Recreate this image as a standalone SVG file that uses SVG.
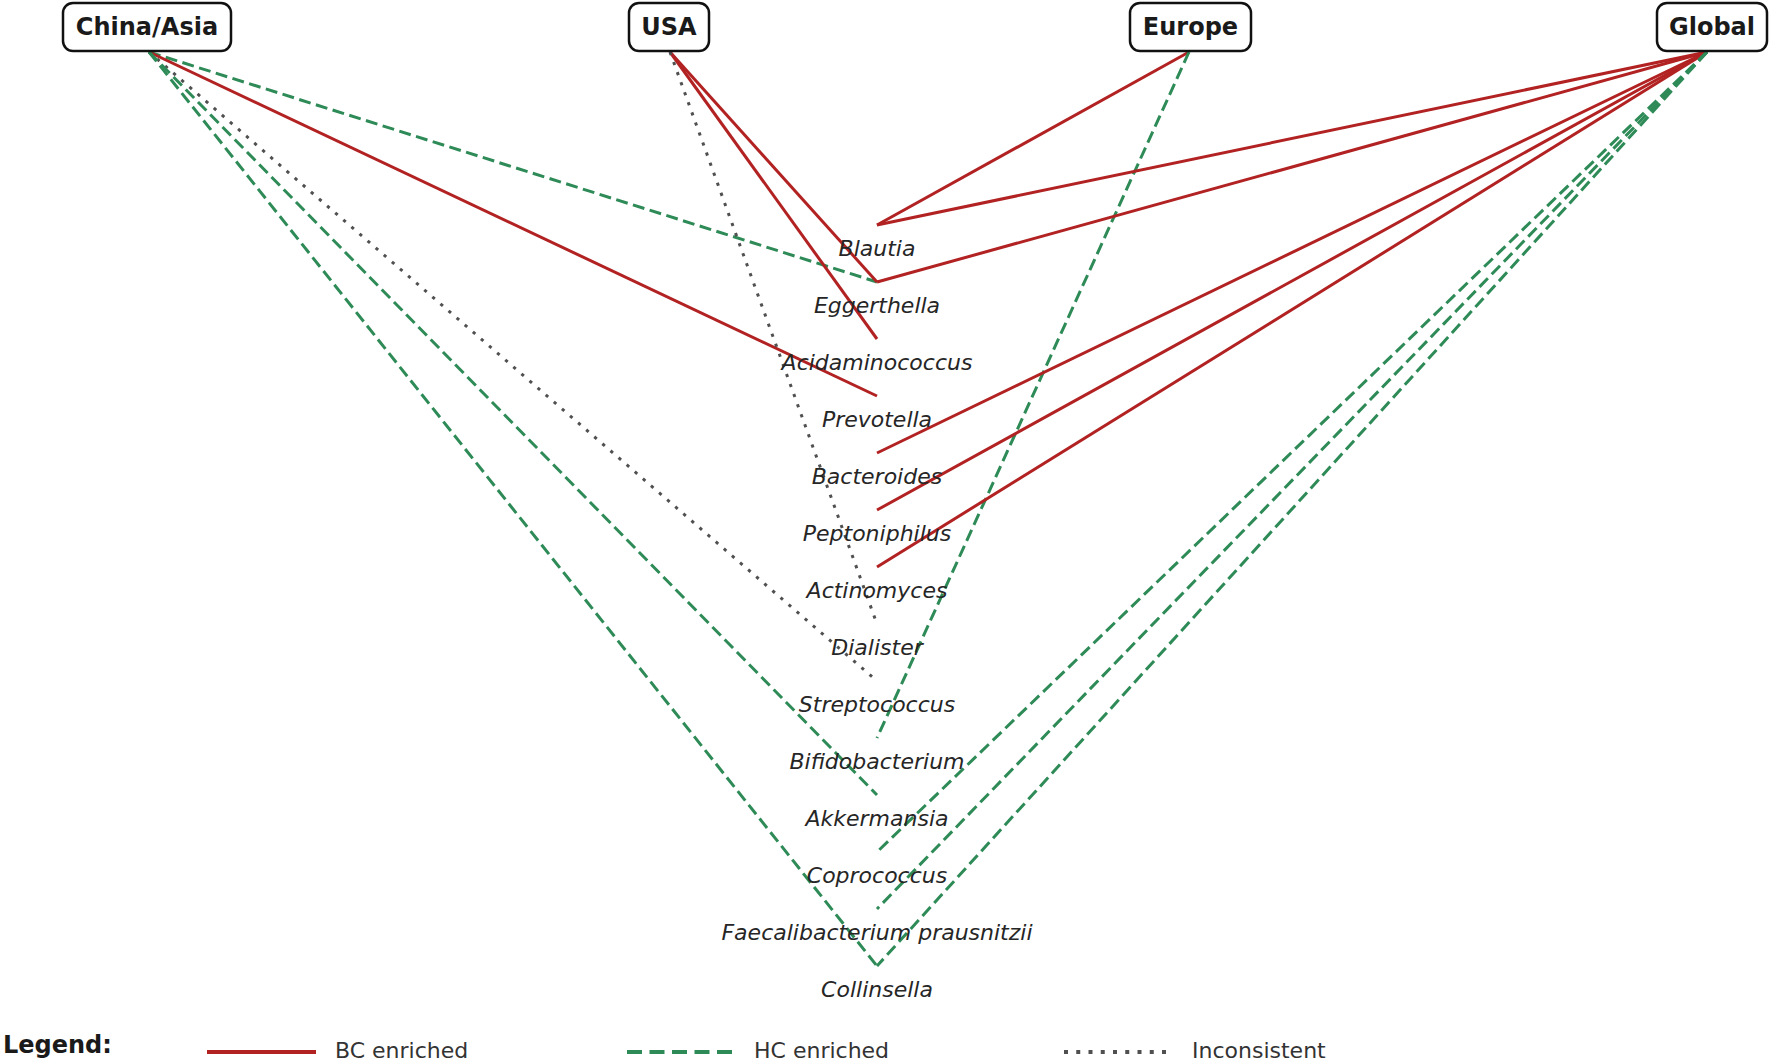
<svg xmlns="http://www.w3.org/2000/svg" width="1772" height="1062" viewBox="0 0 1772 1062">
<style>
.node rect{fill:#ffffff;stroke:#111111;stroke-width:2.5}
.node text{font-family:"DejaVu Sans",sans-serif;font-weight:bold;font-size:24px;fill:#1a1a1a;text-anchor:middle}
.sp{font-family:"DejaVu Sans",sans-serif;font-style:italic;font-size:22px;fill:#262626;text-anchor:middle}
.bc{stroke:#b22222;stroke-width:3;fill:none}
.hc{stroke:#2e8b57;stroke-width:3;fill:none;stroke-dasharray:12 5.5}
.inc{stroke:#505050;stroke-width:3;fill:none;stroke-dasharray:3.2 7.5}
.lg{font-family:"DejaVu Sans",sans-serif;font-size:22px;fill:#333333}
.lgt{font-family:"DejaVu Sans",sans-serif;font-weight:bold;font-size:24px;fill:#1a1a1a}
</style>
<rect width="1772" height="1062" fill="#ffffff"/>
<g id="connectors">
<line class="hc" x1="149" y1="52" x2="877" y2="282"/>
<line class="bc" x1="149" y1="52" x2="877" y2="396"/>
<line class="inc" x1="149" y1="52" x2="877" y2="681"/>
<line class="hc" x1="149" y1="52" x2="877" y2="795"/>
<line class="hc" x1="149" y1="52" x2="877" y2="966"/>
<line class="bc" x1="670" y1="52" x2="877" y2="282"/>
<line class="bc" x1="670" y1="52" x2="877" y2="339"/>
<line class="inc" x1="670" y1="52" x2="877" y2="624"/>
<line class="bc" x1="1189" y1="52" x2="877" y2="225"/>
<line class="hc" x1="1189" y1="52" x2="877" y2="738"/>
<line class="bc" x1="1707" y1="52" x2="877" y2="225"/>
<line class="bc" x1="1707" y1="52" x2="877" y2="282"/>
<line class="bc" x1="1707" y1="52" x2="877" y2="453"/>
<line class="bc" x1="1707" y1="52" x2="877" y2="510"/>
<line class="bc" x1="1707" y1="52" x2="877" y2="567"/>
<line class="hc" x1="1707" y1="52" x2="877" y2="852"/>
<line class="hc" x1="1707" y1="52" x2="877" y2="909"/>
<line class="hc" x1="1707" y1="52" x2="877" y2="966"/>
</g>
<g id="node-china-asia" class="node"><rect x="63" y="3" width="168" height="48" rx="10"/><text x="147" y="35">China/Asia</text></g>
<g id="node-usa" class="node"><rect x="629" y="3" width="80" height="48" rx="10"/><text x="669" y="35">USA</text></g>
<g id="node-europe" class="node"><rect x="1130" y="3" width="121" height="48" rx="10"/><text x="1190.5" y="35">Europe</text></g>
<g id="node-global" class="node"><rect x="1657" y="3" width="110" height="48" rx="10"/><text x="1712" y="35">Global</text></g>
<g id="node-blautia"><text class="sp" x="877" y="256">Blautia</text></g>
<g id="node-eggerthella"><text class="sp" x="877" y="313">Eggerthella</text></g>
<g id="node-acidaminococcus"><text class="sp" x="877" y="370">Acidaminococcus</text></g>
<g id="node-prevotella"><text class="sp" x="877" y="427">Prevotella</text></g>
<g id="node-bacteroides"><text class="sp" x="877" y="484">Bacteroides</text></g>
<g id="node-peptoniphilus"><text class="sp" x="877" y="541">Peptoniphilus</text></g>
<g id="node-actinomyces"><text class="sp" x="877" y="598">Actinomyces</text></g>
<g id="node-dialister"><text class="sp" x="877" y="655">Dialister</text></g>
<g id="node-streptococcus"><text class="sp" x="877" y="712">Streptococcus</text></g>
<g id="node-bifidobacterium"><text class="sp" x="877" y="769">Bifidobacterium</text></g>
<g id="node-akkermansia"><text class="sp" x="877" y="826">Akkermansia</text></g>
<g id="node-coprococcus"><text class="sp" x="877" y="883">Coprococcus</text></g>
<g id="node-faecalibacterium"><text class="sp" x="877" y="940">Faecalibacterium prausnitzii</text></g>
<g id="node-collinsella"><text class="sp" x="877" y="997">Collinsella</text></g>
<g id="legend">
<text class="lgt" x="3" y="1053">Legend:</text>
<line x1="207" y1="1052" x2="316" y2="1052" stroke="#b22222" stroke-width="4"/>
<text class="lg" x="335" y="1058">BC enriched</text>
<line x1="627" y1="1052" x2="732" y2="1052" stroke="#2e8b57" stroke-width="4" stroke-dasharray="15 7.5"/>
<text class="lg" x="754" y="1058">HC enriched</text>
<line x1="1064" y1="1052" x2="1166" y2="1052" stroke="#505050" stroke-width="4" stroke-dasharray="4 8.25"/>
<text class="lg" x="1192" y="1058">Inconsistent</text>
</g>
</svg>
